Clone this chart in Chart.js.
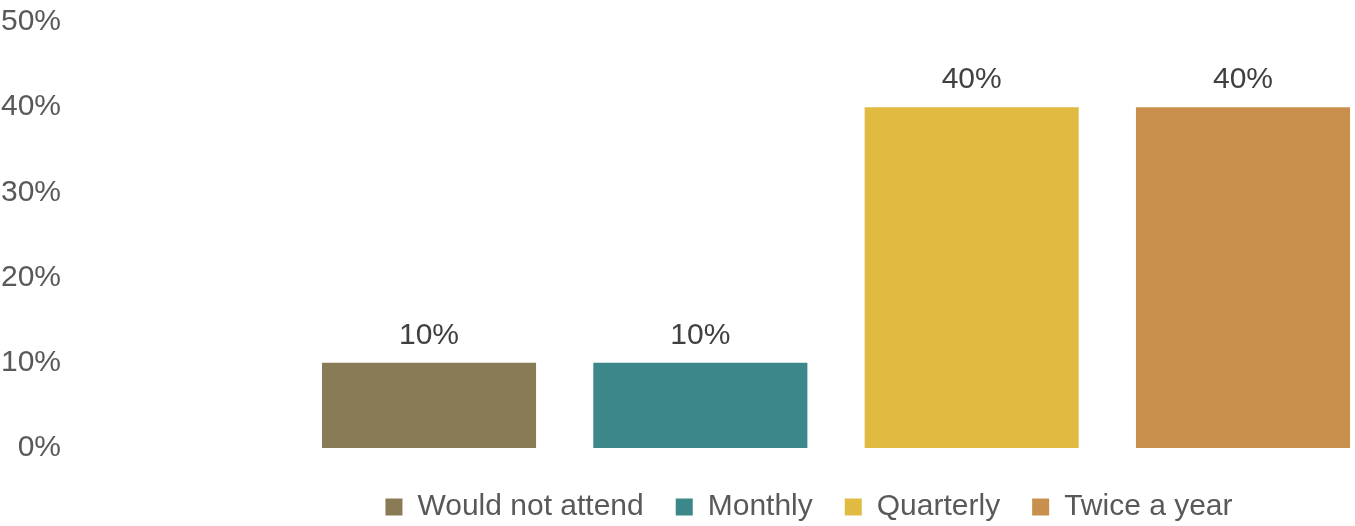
<!DOCTYPE html>
<html>
<head>
<meta charset="utf-8">
<script src="https://cdn.jsdelivr.net/npm/chart.js@4/dist/chart.umd.min.js"></script>
<style>
  html, body { margin: 0; padding: 0; background: #fff; overflow: hidden; }
  #wrap { width: 1355px; height: 526px; }
</style>
</head>
<body>
<div id="wrap"><canvas id="freqChart"></canvas></div>
<script>
// ---- data ----
const categories = ["Would not attend", "Monthly", "Quarterly", "Twice a year"];
const values = [10, 10, 40, 40];
const colors = ["#8A7B57", "#3B8789", "#E1BA42", "#C88F4D"];
const yTickValues = [0, 10, 20, 30, 40, 50];

const FONT = "'Liberation Sans', Arial, sans-serif";

// value labels above each bar
const barLabels = {
    id: "barLabels",
    afterDatasetsDraw(chart) {
        const ctx = chart.ctx;
        ctx.save();
        ctx.font = "30px " + FONT;
        ctx.fillStyle = "#404040";
        ctx.textAlign = "center";
        ctx.textBaseline = "alphabetic";
        chart.data.datasets.forEach(function (ds, i) {
            const meta = chart.getDatasetMeta(i);
            meta.data.forEach(function (bar, j) {
                ctx.fillText(ds.data[j].y + "%", bar.x, bar.y - 19);
            });
        });
        ctx.restore();
    }
};

// move legend so it sits under the bars like the original
const legendShift = {
    id: "legendShift",
    afterLayout(chart) {
        const dx = 133, dy = 12;
        chart.legend.left += dx;
        chart.legend.right += dx;
        chart.legend.top += dy;
        chart.legend.bottom += dy;
    }
};

const datasets = categories.map(function (name, i) {
    return {
        label: name,
        data: [{ x: i + 1, y: values[i] }],
        backgroundColor: colors[i],
        borderWidth: 0,
        grouped: false,
        categoryPercentage: 1,
        barPercentage: 0.789
    };
});

new Chart(document.getElementById("freqChart"), {
    type: "bar",
    data: { datasets: datasets },
    plugins: [barLabels, legendShift],
    options: {
        responsive: true,
        maintainAspectRatio: false,
        animation: false,
        layout: { padding: { top: 6, right: 0, bottom: 6, left: -3 } },
        plugins: {
            tooltip: { enabled: false },
            legend: {
                position: "bottom",
                labels: {
                    boxWidth: 17,
                    boxHeight: 17,
                    padding: 32,
                    color: "#595959",
                    font: { family: FONT, size: 30 }
                }
            }
        },
        scales: {
            x: {
                type: "linear",
                display: false,
                offset: false,
                bounds: "data",
                min: -0.3415,
                max: 4.4128,
                // one tick per category slot so the bar ruler uses the slot width
                afterBuildTicks(axis) {
                    axis.ticks = categories.map(function (c, i) { return { value: i + 1 }; });
                },
                grid: { display: false, offset: false }
            },
            y: {
                min: 0,
                max: 50,
                border: { display: false },
                grid: { display: false, drawTicks: false },
                afterBuildTicks(axis) {
                    axis.ticks = yTickValues.map(function (v) { return { value: v }; });
                },
                ticks: {
                    padding: 4,
                    color: "#595959",
                    font: { family: FONT, size: 30 },
                    callback: function (v) { return v + "%"; }
                }
            }
        }
    }
});
</script>
</body>
</html>
